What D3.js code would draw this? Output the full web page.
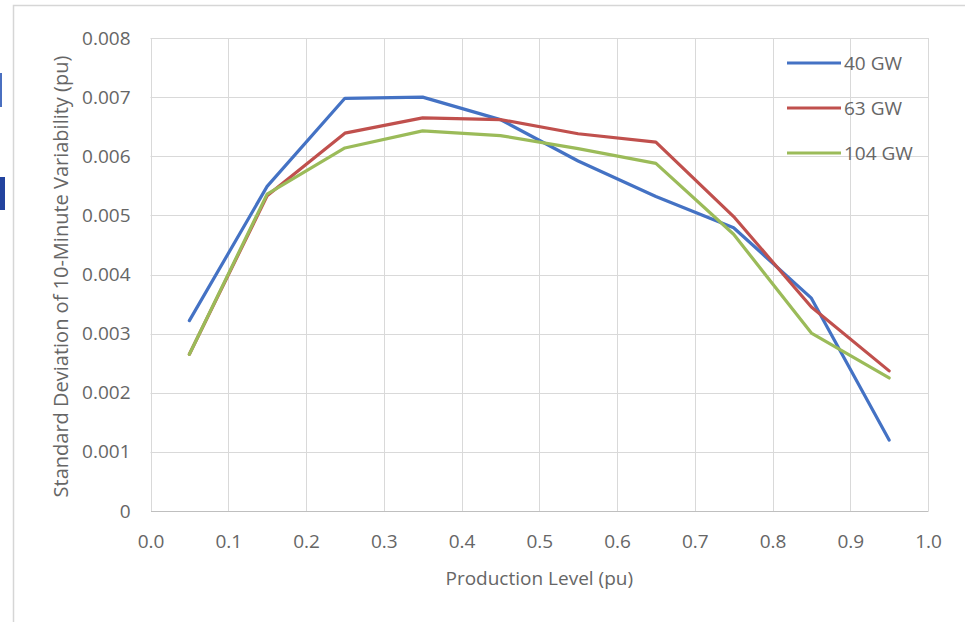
<!DOCTYPE html>
<html>
<head>
<meta charset="utf-8">
<script src="https://cdn.jsdelivr.net/npm/d3@7"></script>
<style>
  html, body { margin: 0; padding: 0; background: #fff; }
  svg { display: block; }
</style>
</head>
<body>
<svg id="chart" width="965" height="622"></svg>
<script>
// Production level bins (pu)
const levels = [0.05, 0.15, 0.25, 0.35, 0.45, 0.55, 0.65, 0.75, 0.85, 0.95];

// Standard deviation of 10-minute variability (pu) per installed capacity
const gw40  = [0.00322, 0.00549, 0.00698, 0.00700, 0.00662, 0.00592, 0.00532, 0.00479, 0.00360, 0.00120];
const gw63  = [0.00265, 0.00533, 0.00639, 0.00665, 0.00662, 0.00638, 0.00624, 0.00498, 0.00345, 0.00237];
const gw104 = [0.00265, 0.00536, 0.00614, 0.00643, 0.00635, 0.00613, 0.00588, 0.00468, 0.00301, 0.00225];

const seriesNames = ["40 GW", "63 GW", "104 GW"];
const seriesColors = ["#4472C4", "#C0504D", "#9BBB59"];

const xTicks = [0.0, 0.1, 0.2, 0.3, 0.4, 0.5, 0.6, 0.7, 0.8, 0.9, 1.0];
const yTicks = [0, 0.001, 0.002, 0.003, 0.004, 0.005, 0.006, 0.007, 0.008];

const xTitle = "Production Level (pu)";
const yTitle = "Standard Deviation of 10-Minute Variability (pu)";

const series = [gw40, gw63, gw104].map((vals, i) => ({
  name: seriesNames[i],
  color: seriesColors[i],
  points: levels.map((x, j) => ({ x, y: vals[j] }))
}));

const svg = d3.select("#chart");
const font = "'Open Sans', 'Noto Sans', sans-serif";
const textColor = "#666666";
const gridColor = "#d9d9d9";

// Outer chart frame
svg.append("rect")
  .attr("x", 13.5).attr("y", 5.5)
  .attr("width", 1000).attr("height", 700)
  .attr("fill", "#fff")
  .attr("stroke", "#d6d6d6").attr("stroke-width", 1.5);

// Fragments of neighbouring heading text at the page edge
svg.append("rect").attr("x", 0).attr("y", 73).attr("width", 2).attr("height", 34).attr("fill", "#4a6fc0");
svg.append("rect").attr("x", 0).attr("y", 177).attr("width", 5).attr("height", 33).attr("fill", "#22439e");

const plot = { left: 150.5, right: 928, top: 38, bottom: 511 };

const x = d3.scaleLinear().domain([0, 1]).range([plot.left, plot.right]);
const y = d3.scaleLinear().domain([0, 0.008]).range([plot.bottom, plot.top]);

// Gridlines
const grid = svg.append("g");
grid.selectAll("line.h").data(yTicks.slice(1)).join("line")
  .attr("class", "h")
  .attr("x1", plot.left).attr("x2", plot.right)
  .attr("y1", d => Math.round(y(d)) + 0.5).attr("y2", d => Math.round(y(d)) + 0.5)
  .attr("stroke", gridColor).attr("stroke-width", 1);
grid.selectAll("line.v").data(xTicks).join("line")
  .attr("class", "v")
  .attr("y1", plot.top).attr("y2", plot.bottom)
  .attr("x1", d => Math.round(x(d)) + 0.5).attr("x2", d => Math.round(x(d)) + 0.5)
  .attr("stroke", gridColor).attr("stroke-width", 1);

// X axis
const xAxis = d3.axisBottom(x).tickValues(xTicks).tickFormat(d3.format(".1f")).tickSize(0).tickPadding(24);
const gx = svg.append("g").attr("transform", `translate(0,${plot.bottom})`).call(xAxis);
gx.select(".domain").attr("stroke", "#bfbfbf").attr("stroke-width", 1.2);
gx.selectAll("text").attr("fill", textColor).style("font-family", font).style("font-size", "19px");

// Y axis
const yAxis = d3.axisLeft(y).tickValues(yTicks)
  .tickFormat(d => d === 0 ? "0" : d3.format(".3f")(d)).tickSize(0).tickPadding(20);
const gy = svg.append("g").attr("transform", `translate(${plot.left},0)`).call(yAxis);
gy.select(".domain").remove();
gy.selectAll("text").attr("fill", textColor).style("font-family", font).style("font-size", "19px");

// Axis titles
svg.append("text")
  .attr("x", (plot.left + plot.right) / 2).attr("y", 585)
  .attr("text-anchor", "middle")
  .attr("fill", textColor).style("font-family", font).style("font-size", "19px")
  .text(xTitle);

svg.append("text")
  .attr("transform", `translate(68,${(plot.top + plot.bottom) / 2 + 2}) rotate(-90)`)
  .attr("text-anchor", "middle")
  .attr("fill", textColor).style("font-family", font).style("font-size", "20px")
  .text(yTitle);

// Series lines
const line = d3.line().x(d => x(d.x)).y(d => y(d.y));
svg.append("g").selectAll("path").data(series).join("path")
  .attr("d", d => line(d.points))
  .attr("fill", "none")
  .attr("stroke", d => d.color)
  .attr("stroke-width", 3.2)
  .attr("stroke-linejoin", "round")
  .attr("stroke-linecap", "round");

// Legend
const legend = svg.append("g");
const lg = legend.selectAll("g").data(series).join("g")
  .attr("transform", (d, i) => `translate(787,${63 + i * 45})`);
lg.append("line")
  .attr("x1", 0).attr("x2", 54).attr("y1", 0).attr("y2", 0)
  .attr("stroke", d => d.color).attr("stroke-width", 3.2);
lg.append("text")
  .attr("x", 57).attr("y", 0).attr("dy", "0.35em")
  .attr("fill", textColor).style("font-family", font).style("font-size", "19px")
  .text(d => d.name);
</script>
</body>
</html>
